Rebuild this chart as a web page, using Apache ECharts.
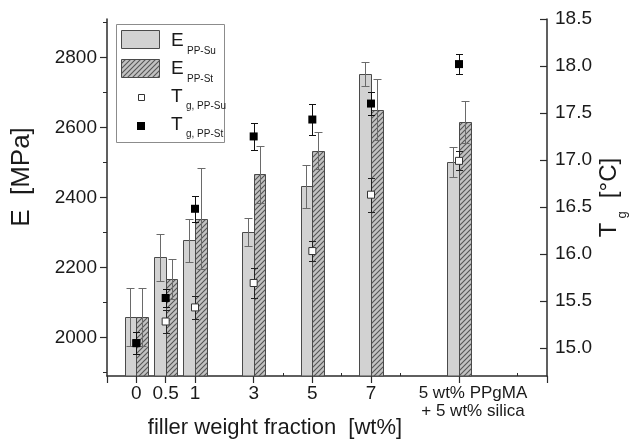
<!DOCTYPE html>
<html><head><meta charset="utf-8">
<script src="https://cdn.jsdelivr.net/npm/echarts@6/dist/echarts.min.js"></script>
<style>html,body{margin:0;padding:0;background:#fff}#c{width:634px;height:441px}</style>
</head><body><div id="c"></div>
<script>
// ---- data ----
const categories = ['0', '0.5', '1', '3', '5', '7', '5 wt% PPgMA\n+ 5 wt% silica'];
const xSlot = [0, 0.5, 1, 2, 3, 4, 5.5];           // category slot on the (broken) x axis
const eSu = [2059, 2229, 2278, 2302, 2432, 2753, 2502];
const eSuErr = [83, 67, 61, 40, 62, 33, 42];
const eSt = [2059, 2166, 2339, 2466, 2534, 2651, 2616];
const eStErr = [83, 57, 144, 81, 52, 88, 61];
const tgSu = [15.05, 15.28, 15.43, 15.69, 16.03, 16.63, 16.99];
const tgSuErr = [0.12, 0.12, 0.12, 0.16, 0.11, 0.18, 0.10];
const tgSt = [15.05, 15.53, 16.48, 17.25, 17.43, 17.60, 18.02];
const tgStErr = [0.12, 0.10, 0.14, 0.14, 0.17, 0.12, 0.11];
const eTicks = [2000, 2200, 2400, 2600, 2800];
const eMinorTicks = [1900, 2100, 2300, 2500, 2700, 2900];
const tgTicks = [15.0, 15.5, 16.0, 16.5, 17.0, 17.5, 18.0, 18.5];
const xMajorTicks = [-0.5, 0, 0.5, 1, 2, 3, 4, 5.5, 7];
const xMinorTicks = [2.5, 3.5, 4.5, 6.5];

// ---- styles ----
const E_MIN = 1890, E_MAX = 2910, TG_MIN = 14.7, TG_MAX = 18.5;
const BAR_W = 0.2;
const SU_FILL = '#d2d2d2';
const EDGE = '#4a4a4a';
const TXT = '#1a1a1a';
const FONT = 'Liberation Sans, Arial, sans-serif';

function makeHatch() {
  const s = 5;
  const cv = document.createElement('canvas');
  cv.width = s; cv.height = s;
  const g = cv.getContext('2d');
  g.fillStyle = '#c2c2c2';
  g.fillRect(0, 0, s, s);
  g.strokeStyle = '#555';
  g.lineWidth = 1.1;
  g.beginPath();
  g.moveTo(-1, s + 1); g.lineTo(s + 1, -1);
  g.moveTo(-1, 1); g.lineTo(1, -1);
  g.moveTo(s - 1, s + 1); g.lineTo(s + 1, s - 1);
  g.stroke();
  return cv;
}
const HATCH = { image: makeHatch(), repeat: 'repeat' };

function barRenderer(side, fill) {
  return function (params, api) {
    const x = api.value(0), v = api.value(1);
    const x0 = side < 0 ? x - BAR_W : x;
    const p0 = api.coord([x0, v]);
    const p1 = api.coord([x0 + BAR_W, E_MIN]);
    const L = Math.round(p0[0]) + 0.5, R = Math.round(p1[0]) + 0.5;
    const T = Math.round(p0[1]) + 0.5, B = p1[1];
    return { type: 'rect', shape: { x: L, y: T, width: R - L, height: B - T },
      style: { fill: fill, stroke: EDGE, lineWidth: 1 } };
  };
}
function errRenderer(shift, color, cap) {
  return function (params, api) {
    const x = api.value(0) + shift, v = api.value(1), e = api.value(2);
    const top = api.coord([x, v + e]);
    const bot = api.coord([x, v - e]);
    const cx = Math.round(top[0]) + 0.5;
    const ty = Math.round(top[1]) + 0.5, by = Math.round(bot[1]) + 0.5;
    const st = { stroke: color, lineWidth: 1 };
    return { type: 'group', children: [
      { type: 'line', shape: { x1: cx, y1: ty, x2: cx, y2: by }, style: st },
      { type: 'line', shape: { x1: cx - cap, y1: ty, x2: cx + cap, y2: ty }, style: st },
      { type: 'line', shape: { x1: cx - cap, y1: by, x2: cx + cap, y2: by }, style: st }
    ] };
  };
}
const zip = (a, b) => xSlot.map((x, i) => [x, a[i], b[i]]);

const axisLineStyle = { color: '#2b2b2b', width: 1.5 };
const chart = echarts.init(document.getElementById('c'), null, { renderer: 'canvas' });
chart.setOption({
  animation: false,
  backgroundColor: '#fff',
  grid: { left: 107, right: 87, top: 19, bottom: 65, containLabel: false, outerBoundsMode: 'none' },
  xAxis: [
    { type: 'value', min: -0.5, max: 7, position: 'bottom',
      axisLine: { show: true, onZero: false, lineStyle: axisLineStyle },
      axisTick: { show: true, customValues: xMajorTicks, length: 7, lineStyle: { color: '#2b2b2b', width: 1.2 } },
      axisLabel: { customValues: xSlot, margin: 8, color: TXT, fontSize: 19, fontFamily: FONT,
        formatter: function (v) {
          const i = xSlot.findIndex(s => Math.abs(s - v) < 1e-6);
          if (i < 0) return '';
          const t = categories[i];
          if (t.indexOf('\n') >= 0) return t.split('\n').map(s => '{c|' + s + '}').join('\n');
          return t;
        },
        rich: { c: { fontSize: 17, lineHeight: 18, fontFamily: FONT, color: TXT, padding: [0, 0, 0, 28] } } },
      splitLine: { show: false } },
    { type: 'value', min: -0.5, max: 7, position: 'bottom',
      axisLine: { show: false, onZero: false },
      axisTick: { show: true, inside: true, customValues: xMinorTicks, length: 3, lineStyle: { color: '#2b2b2b' } },
      axisLabel: { show: false }, splitLine: { show: false } }
  ],
  yAxis: [
    { type: 'value', min: E_MIN, max: E_MAX, position: 'left',
      axisLine: { show: true, onZero: false, lineStyle: axisLineStyle },
      axisTick: { show: true, customValues: eTicks, length: 7, lineStyle: { color: '#2b2b2b', width: 1.2 } },
      axisLabel: { customValues: eTicks, margin: 10, color: TXT, fontSize: 19, fontFamily: FONT,
        formatter: v => String(Math.round(v)) },
      splitLine: { show: false } },
    { type: 'value', min: E_MIN, max: E_MAX, position: 'left',
      axisLine: { show: false, onZero: false },
      axisTick: { show: true, customValues: eMinorTicks, length: 4, lineStyle: { color: '#2b2b2b' } },
      axisLabel: { show: false }, splitLine: { show: false } },
    { type: 'value', min: TG_MIN, max: TG_MAX, position: 'right',
      axisLine: { show: true, onZero: false, lineStyle: axisLineStyle },
      axisTick: { show: true, inside: true, customValues: tgTicks, length: 7, lineStyle: { color: '#2b2b2b', width: 1.2 } },
      axisLabel: { customValues: tgTicks, margin: 8, color: TXT, fontSize: 19, fontFamily: FONT,
        formatter: v => Number(v).toFixed(1) },
      splitLine: { show: false } }
  ],
  series: [
    { name: 'E PP-Su', type: 'custom', xAxisIndex: 0, yAxisIndex: 0, z: 2,
      renderItem: barRenderer(-1, SU_FILL), data: zip(eSu, eSuErr) },
    { name: 'E PP-St', type: 'custom', xAxisIndex: 0, yAxisIndex: 0, z: 2,
      renderItem: barRenderer(1, HATCH), data: zip(eSt, eStErr) },
    { name: 'E PP-Su err', type: 'custom', xAxisIndex: 0, yAxisIndex: 0, z: 3,
      renderItem: errRenderer(-BAR_W / 2, '#6a6a6a', 4), data: zip(eSu, eSuErr) },
    { name: 'E PP-St err', type: 'custom', xAxisIndex: 0, yAxisIndex: 0, z: 3,
      renderItem: errRenderer(BAR_W / 2, '#6a6a6a', 4), data: zip(eSt, eStErr) },
    { name: 'Tg PP-Su err', type: 'custom', xAxisIndex: 0, yAxisIndex: 2, z: 4,
      renderItem: errRenderer(0, '#222', 3.5), data: zip(tgSu, tgSuErr) },
    { name: 'Tg PP-St err', type: 'custom', xAxisIndex: 0, yAxisIndex: 2, z: 4,
      renderItem: errRenderer(0, '#111', 3.5), data: zip(tgSt, tgStErr) },
    { name: 'Tg PP-Su', type: 'scatter', xAxisIndex: 0, yAxisIndex: 2, z: 5,
      symbol: 'rect', symbolSize: 7,
      itemStyle: { color: '#ffffff', borderColor: '#333', borderWidth: 1, opacity: 1 },
      data: xSlot.map((x, i) => [x, tgSu[i]]) },
    { name: 'Tg PP-St', type: 'scatter', xAxisIndex: 0, yAxisIndex: 2, z: 6,
      symbol: 'rect', symbolSize: 8,
      itemStyle: { color: '#000000', opacity: 1 },
      data: xSlot.map((x, i) => [x, tgSt[i]]) }
  ],
  graphic: [
    // axis titles
    { type: 'text', x: 22, y: 177, rotation: Math.PI / 2,
      style: { text: 'E  [MPa]', font: '26px ' + FONT, fill: TXT, align: 'center', verticalAlign: 'middle' } },
    { type: 'text', x: 609, y: 230, rotation: Math.PI / 2,
      style: { text: 'T', font: '24px ' + FONT, fill: TXT, align: 'center', verticalAlign: 'middle' } },
    { type: 'text', x: 622, y: 215, rotation: Math.PI / 2,
      style: { text: 'g', font: '13px ' + FONT, fill: TXT, align: 'center', verticalAlign: 'middle' } },
    { type: 'text', x: 609.5, y: 178, rotation: Math.PI / 2,
      style: { text: '[°C]', font: '24px ' + FONT, fill: TXT, align: 'center', verticalAlign: 'middle' } },
    { type: 'text', x: 275, y: 428,
      style: { text: 'filler weight fraction  [wt%]', font: '22px ' + FONT, fill: TXT, align: 'center', verticalAlign: 'middle' } },
    // legend
    { type: 'rect', z: 10, shape: { x: 116.5, y: 24.5, width: 108, height: 118 },
      style: { fill: '#fff', stroke: '#8c8c8c', lineWidth: 1 } },
    { type: 'rect', z: 11, shape: { x: 121.5, y: 30.5, width: 38, height: 18 },
      style: { fill: SU_FILL, stroke: EDGE, lineWidth: 1 } },
    { type: 'rect', z: 11, shape: { x: 121.5, y: 59.5, width: 38, height: 18 },
      style: { fill: HATCH, stroke: EDGE, lineWidth: 1 } },
    { type: 'rect', z: 11, shape: { x: 138.5, y: 94.5, width: 6, height: 6 },
      style: { fill: '#fff', stroke: '#333', lineWidth: 1 } },
    { type: 'rect', z: 11, shape: { x: 137, y: 122, width: 8, height: 8 },
      style: { fill: '#000' } },
    { type: 'text', z: 11, x: 171, y: 40.5, style: { text: 'E', font: '19px ' + FONT, fill: TXT, verticalAlign: 'middle' } },
    { type: 'text', z: 11, x: 187, y: 51, style: { text: 'PP-Su', font: '10px ' + FONT, fill: TXT, verticalAlign: 'middle' } },
    { type: 'text', z: 11, x: 171, y: 68.5, style: { text: 'E', font: '19px ' + FONT, fill: TXT, verticalAlign: 'middle' } },
    { type: 'text', z: 11, x: 187, y: 79, style: { text: 'PP-St', font: '10px ' + FONT, fill: TXT, verticalAlign: 'middle' } },
    { type: 'text', z: 11, x: 171, y: 96.5, style: { text: 'T', font: '19px ' + FONT, fill: TXT, verticalAlign: 'middle' } },
    { type: 'text', z: 11, x: 186, y: 106.5, style: { text: 'g, PP-Su', font: '10px ' + FONT, fill: TXT, verticalAlign: 'middle' } },
    { type: 'text', z: 11, x: 171, y: 124.5, style: { text: 'T', font: '19px ' + FONT, fill: TXT, verticalAlign: 'middle' } },
    { type: 'text', z: 11, x: 186, y: 134, style: { text: 'g, PP-St', font: '10px ' + FONT, fill: TXT, verticalAlign: 'middle' } }
  ]
});
</script>
</body></html>
